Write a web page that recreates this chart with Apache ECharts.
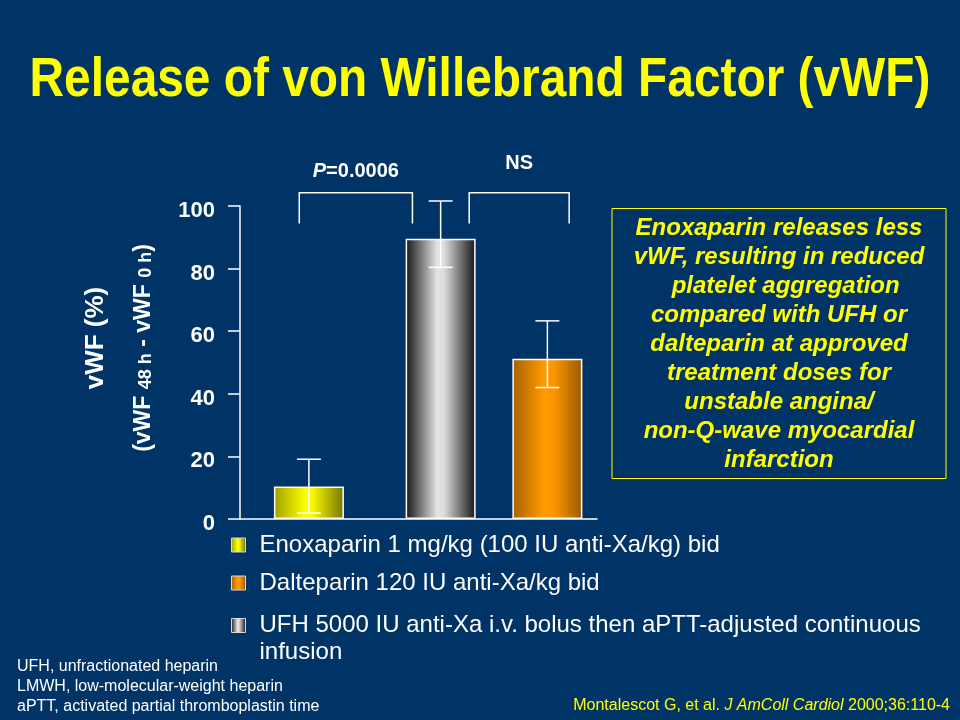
<!DOCTYPE html>
<html><head><meta charset="utf-8">
<script src="https://cdn.jsdelivr.net/npm/echarts@6/dist/echarts.min.js"></script>
<style>html,body{margin:0;padding:0;background:#003366;}#c{width:960px;height:720px;}</style>
</head><body><div id="c"></div>
<script>
// ---- data ----
const categories = [
  'Enoxaparin 1 mg/kg (100 IU anti-Xa/kg) bid',
  'UFH 5000 IU anti-Xa i.v. bolus then aPTT-adjusted continuous infusion',
  'Dalteparin 120 IU anti-Xa/kg bid'
];
const values  = [10.4, 89.5, 51.2];
const errLow  = [1.9, 80.4, 42.0];
const errHigh = [19.1, 101.6, 63.3];
const yTicks  = [0, 20, 40, 60, 80, 100];
const legendOrderIdx = [0, 2, 1];
const comparisonLabels = ['P=0.0006', 'NS'];
const noteLines = ['Enoxaparin releases less', 'vWF, resulting in reduced', '  platelet aggregation',
  'compared with UFH or', 'dalteparin at approved', 'treatment doses for', 'unstable angina/',
  'non-Q-wave myocardial', 'infarction'];
const footnotes = ['UFH, unfractionated heparin', 'LMWH, low-molecular-weight heparin',
  'aPTT, activated partial thromboplastin time'];
const titleText = 'Release of von Willebrand Factor (vWF)';

// ---- layout (positions on the hidden x scale, not data) ----
const barX = [19.3, 56.2, 86.1];
const brackets = [
  {x1: 16.6, x2: 48.3, top: 104.2, bottom: 94.4, labelY: 111.0},
  {x1: 64.2, x2: 92.2, top: 104.2, bottom: 94.4, labelY: 113.7}
];

// ---- styles ----
const FONT = "'Liberation Sans', Arial, Helvetica, sans-serif";
const gradStops = [
  [[0, '#a0a000'], [0.45, '#ffff00'], [0.55, '#f8f800'], [1, '#747400']],
  [[0, '#151515'], [0.45, '#e4e4e4'], [0.55, '#dcdcdc'], [1, '#151515']],
  [[0, '#a86000'], [0.45, '#ff9a00'], [0.6, '#fb9600'], [1, '#9a5800']]
];
function grad(stops, k) {
  k = k || 1;
  const arr = stops.map(s => ({offset: s[0] * k, color: s[1]}));
  if (k < 1) arr.push({offset: 1, color: stops[stops.length - 1][1]});
  return new echarts.graphic.LinearGradient(0, 0, 1, 0, arr);
}
const ICON_W = 23, SQ = 14;

const chart = echarts.init(document.getElementById('c'));

const barSeries = categories.map((name, i) => ({
  name: name,
  type: 'bar',
  barWidth: 70,
  barGap: '-100%',
  z: 2,
  itemStyle: {color: grad(gradStops[i]), borderColor: '#ffffff', borderWidth: 1.5},
  data: [[barX[i], values[i]]]
}));

const errorSeries = {
  name: 'error',
  type: 'custom',
  z: 5,
  clip: false,
  encode: {x: 0, y: [1, 2]},
  data: values.map((v, i) => [barX[i], errLow[i], errHigh[i]]),
  renderItem: function (params, api) {
    const x = api.value(0);
    const lo = api.coord([x, api.value(1)]);
    const hi = api.coord([x, api.value(2)]);
    const hw = 12;
    const st = {stroke: '#ffffff', lineWidth: 1.5};
    return {type: 'group', children: [
      {type: 'line', shape: {x1: lo[0], y1: lo[1], x2: hi[0], y2: hi[1]}, style: st},
      {type: 'line', shape: {x1: hi[0] - hw, y1: hi[1], x2: hi[0] + hw, y2: hi[1]}, style: st},
      {type: 'line', shape: {x1: lo[0] - hw, y1: lo[1], x2: lo[0] + hw, y2: lo[1]}, style: st}
    ]};
  }
};

const bracketSeries = {
  name: 'comparisons',
  type: 'custom',
  z: 5,
  clip: false,
  encode: {x: [0, 1], y: [2, 3]},
  data: brackets.map(b => [b.x1, b.x2, b.top, b.bottom, b.labelY]),
  renderItem: function (params, api) {
    const x1 = api.value(0), x2 = api.value(1);
    const a = api.coord([x1, api.value(3)]);
    const b = api.coord([x1, api.value(2)]);
    const c = api.coord([x2, api.value(2)]);
    const d = api.coord([x2, api.value(3)]);
    const t = api.coord([(x1 + x2) / 2, api.value(4)]);
    const lbl = comparisonLabels[params.dataIndex];
    const txt = lbl.charAt(0) === 'P' ? '{i|P}{n|' + lbl.slice(1) + '}' : '{n|' + lbl + '}';
    return {type: 'group', children: [
      {type: 'polyline', shape: {points: [a, b, c, d]}, style: {stroke: '#ffffff', lineWidth: 1.5, fill: null}},
      {type: 'text', style: {
        text: txt, x: t[0], y: t[1], align: 'center', verticalAlign: 'middle',
        rich: {
          i: {fontFamily: FONT, fontSize: 20, fontWeight: 'bold', fontStyle: 'italic', fill: '#ffffff'},
          n: {fontFamily: FONT, fontSize: 20, fontWeight: 'bold', fill: '#ffffff'}
        }
      }}
    ]};
  }
};

function legendItem(i) {
  return {name: categories[i], itemStyle: {color: grad(gradStops[i], SQ / ICON_W)}};
}

const option = {
  backgroundColor: '#003366',
  animation: false,
  grid: {left: 240, right: 363, top: 206, bottom: 201},
  xAxis: {
    type: 'value', min: 0, max: 100,
    axisLine: {show: true, lineStyle: {color: '#ffffff', width: 1.5}},
    axisTick: {show: false}, axisLabel: {show: false}, splitLine: {show: false}
  },
  yAxis: {
    type: 'value', min: yTicks[0], max: yTicks[yTicks.length - 1], interval: yTicks[1] - yTicks[0],
    axisLine: {show: true, lineStyle: {color: '#ffffff', width: 1.5}},
    axisTick: {show: true, length: 12, lineStyle: {color: '#ffffff', width: 1.5}},
    axisLabel: {color: '#ffffff', fontFamily: FONT, fontSize: 22, fontWeight: 'bold', margin: 25,
      verticalAlign: 'top', lineHeight: 10},
    splitLine: {show: false}
  },
  legend: [
    {
      data: [legendItem(legendOrderIdx[0]), legendItem(legendOrderIdx[1])],
      orient: 'vertical', left: 231, top: 533, padding: 0, itemGap: 14,
      itemWidth: ICON_W, itemHeight: SQ, selectedMode: false,
      icon: 'path://M0,0L14,0L14,14L0,14Z M23,0L23,0',
      itemStyle: {borderColor: '#d8d8d8', borderWidth: 1},
      textStyle: {color: '#ffffff', fontFamily: FONT, fontSize: 24, lineHeight: 24}
    },
    {
      data: [legendItem(legendOrderIdx[2])],
      orient: 'vertical', left: 231, top: 612, padding: 0,
      itemWidth: ICON_W, itemHeight: 41, selectedMode: false,
      icon: 'path://M0,0L14,0L14,14L0,14Z M23,41L23,41',
      itemStyle: {borderColor: '#d8d8d8', borderWidth: 1},
      formatter: function (n) { return n.replace(' infusion', '\ninfusion'); },
      textStyle: {color: '#ffffff', fontFamily: FONT, fontSize: 24, lineHeight: 27}
    }
  ],
  series: barSeries.concat([errorSeries, bracketSeries]),
  graphic: [
    {type: 'text', x: 480, y: 81, scaleX: 0.87, z: 10, style: {
      text: titleText, align: 'center', verticalAlign: 'middle',
      fontFamily: FONT, fontSize: 55, fontWeight: 'bold', fill: '#ffff00',
      textShadowColor: '#000000', textShadowOffsetX: 3, textShadowOffsetY: 3, textShadowBlur: 0
    }},
    {type: 'text', x: 96, y: 338, rotation: Math.PI / 2, z: 10, style: {
      text: 'vWF (%)', align: 'center', verticalAlign: 'middle',
      fontFamily: FONT, fontSize: 26, fontWeight: 'bold', fill: '#ffffff'
    }},
    {type: 'text', x: 142, y: 348, rotation: Math.PI / 2, z: 10, style: {
      text: '{m|(vWF }{s|48 h}{m| - vWF }{s|0 h}{m|)}', align: 'center', verticalAlign: 'middle',
      rich: {
        m: {fontFamily: FONT, fontSize: 23, fontWeight: 'bold', fill: '#ffffff', verticalAlign: 'bottom', lineHeight: 26},
        s: {fontFamily: FONT, fontSize: 18, fontWeight: 'bold', fill: '#ffffff', verticalAlign: 'bottom', lineHeight: 22}
      }
    }},
    {type: 'rect', z: 10, shape: {x: 612, y: 208.5, width: 334, height: 270},
      style: {fill: null, stroke: '#ffff00', lineWidth: 1}},
    {type: 'text', x: 779, y: 344, z: 10, style: {
      text: noteLines.join('\n'), align: 'center', verticalAlign: 'middle',
      fontFamily: FONT, fontSize: 24, fontWeight: 'bold', fontStyle: 'italic', lineHeight: 29, fill: '#ffff00'
    }},
    {type: 'text', x: 17, y: 687, z: 10, style: {
      text: footnotes.join('\n'), align: 'left', verticalAlign: 'middle',
      fontFamily: FONT, fontSize: 16, lineHeight: 20, fill: '#ffffff'
    }},
    {type: 'text', x: 950, y: 706, z: 10, style: {
      text: '{n|Montalescot G, et al. }{i|J AmColl Cardiol}{n| 2000;36:110-4}', align: 'right', verticalAlign: 'middle',
      rich: {
        n: {fontFamily: FONT, fontSize: 16, fill: '#ffff00'},
        i: {fontFamily: FONT, fontSize: 16, fontStyle: 'italic', fill: '#ffff00'}
      }
    }}
  ]
};
chart.setOption(option);
</script>
</body></html>
